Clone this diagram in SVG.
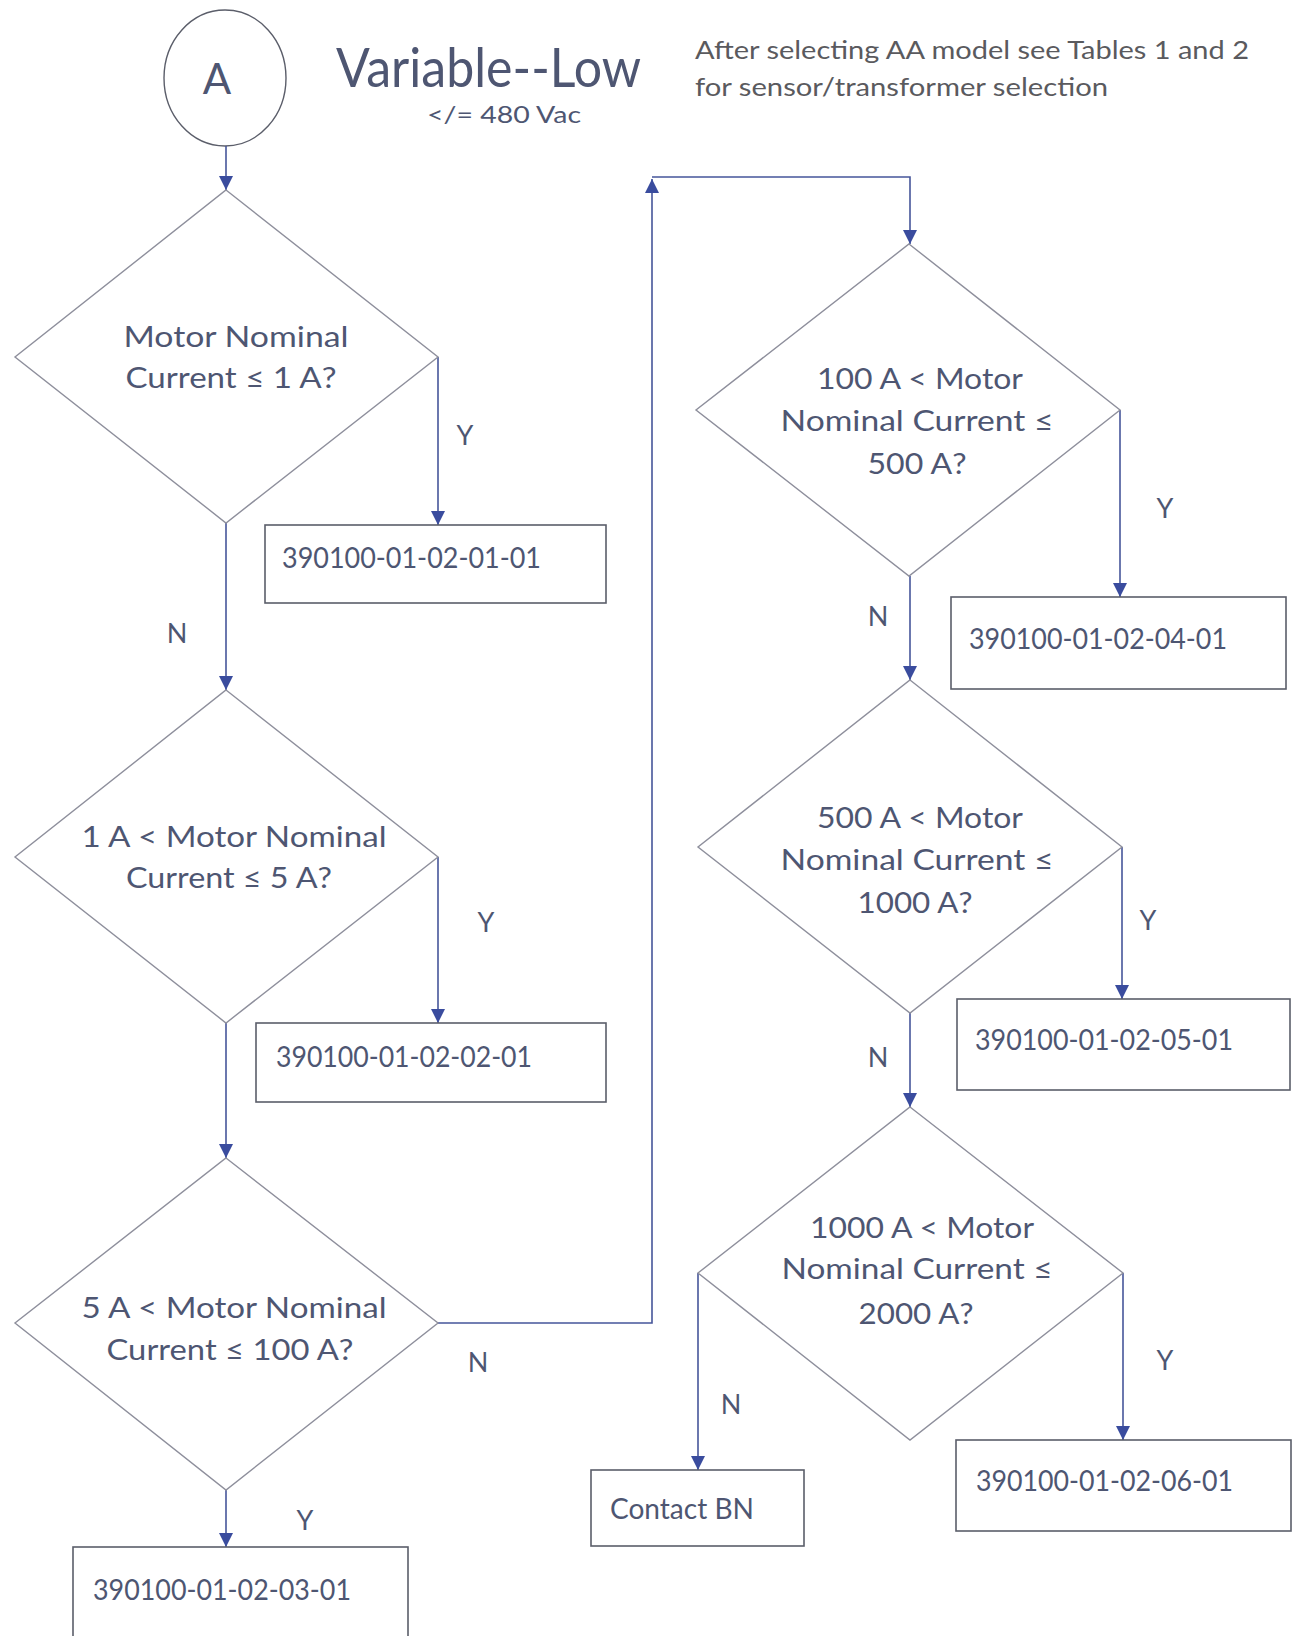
<svg xmlns="http://www.w3.org/2000/svg" width="1293" height="1636" viewBox="0 0 1293 1636">
<defs>
<marker id="arr" markerUnits="userSpaceOnUse" markerWidth="14" markerHeight="16" refX="14" refY="7" orient="auto">
<path d="M0,0 L14,7 L0,14 Z" fill="#3a4c9e"/>
</marker>
<style>
text{font-family:Lato,"Liberation Sans",sans-serif;fill:#4e5672}
.q{font-size:29px;text-anchor:middle}
.b{font-size:28px}
.l{font-size:27px;text-anchor:middle}
.dia{fill:none;stroke:#8e8f9c;stroke-width:1.4}
.box{fill:none;stroke:#5b5e6a;stroke-width:1.6}
.con path{fill:none;stroke:#46569a;stroke-width:1.6}
.note{font-size:25px;fill:#5a5a5e}
</style>
</defs>
<rect width="1293" height="1636" fill="#ffffff"/>

<g id="start">
<ellipse cx="225" cy="78" rx="61" ry="68" fill="none" stroke="#5b5e6a" stroke-width="1.4"/>
<text x="217" y="94" style="font-size:42px;text-anchor:middle">A</text>
</g>
<g id="title">
<text x="336" y="87" style="font-size:55px" textLength="305" lengthAdjust="spacingAndGlyphs">Variable--Low</text>
<text x="427" y="123" style="font-size:23px" textLength="154" lengthAdjust="spacingAndGlyphs">&lt;/= 480 Vac</text>
</g>
<g id="note">
<text class="note" x="695" y="59" textLength="554" lengthAdjust="spacingAndGlyphs">After selecting AA model see Tables 1 and 2</text>
<text class="note" x="695" y="96" textLength="413" lengthAdjust="spacingAndGlyphs">for sensor/transformer selection</text>
</g>

<g class="con" id="connectors">
<path d="M226,146 V190" marker-end="url(#arr)"/>
<path d="M226,523 V690" marker-end="url(#arr)"/>
<path d="M438,357 V525" marker-end="url(#arr)"/>
<path d="M226,1023 V1158" marker-end="url(#arr)"/>
<path d="M438,857 V1023" marker-end="url(#arr)"/>
<path d="M226,1490 V1547" marker-end="url(#arr)"/>
<path d="M438,1323 H652 V179" marker-end="url(#arr)"/>
<path d="M652,177 H910 V244" marker-end="url(#arr)"/>
<path d="M1120,410 V597" marker-end="url(#arr)"/>
<path d="M910,576 V680" marker-end="url(#arr)"/>
<path d="M1122,847 V999" marker-end="url(#arr)"/>
<path d="M910,1013 V1107" marker-end="url(#arr)"/>
<path d="M698,1273 V1470" marker-end="url(#arr)"/>
<path d="M1123,1273 V1440" marker-end="url(#arr)"/>
<text class="l" x="465" y="445">Y</text>
<text class="l" x="177" y="643">N</text>
<text class="l" x="486" y="932">Y</text>
<text class="l" x="478" y="1372">N</text>
<text class="l" x="305" y="1530">Y</text>
<text class="l" x="1165" y="518">Y</text>
<text class="l" x="878" y="626">N</text>
<text class="l" x="1148" y="930">Y</text>
<text class="l" x="878" y="1067">N</text>
<text class="l" x="1165" y="1370">Y</text>
<text class="l" x="731" y="1414">N</text>
</g>

<g id="d1">
<path class="dia" d="M226,190 L438,357 L226,523 L15,357 Z"/>
<text class="q" x="236" y="347" textLength="225" lengthAdjust="spacingAndGlyphs">Motor Nominal</text>
<text class="q" x="231" y="388" textLength="211" lengthAdjust="spacingAndGlyphs">Current ≤ 1 A?</text>
</g>
<g id="b1">
<rect class="box" x="265" y="525" width="341" height="78"/>
<text class="b" x="282" y="568" textLength="259" lengthAdjust="spacingAndGlyphs">390100-01-02-01-01</text>
</g>

<g id="d2">
<path class="dia" d="M226,690 L438,857 L226,1023 L15,857 Z"/>
<text class="q" x="234" y="847" textLength="305" lengthAdjust="spacingAndGlyphs">1 A &lt; Motor Nominal</text>
<text class="q" x="229" y="888" textLength="206" lengthAdjust="spacingAndGlyphs">Current ≤ 5 A?</text>
</g>
<g id="b2">
<rect class="box" x="256" y="1023" width="350" height="79"/>
<text class="b" x="276" y="1067" textLength="256" lengthAdjust="spacingAndGlyphs">390100-01-02-02-01</text>
</g>

<g id="d3">
<path class="dia" d="M226,1158 L438,1323 L226,1490 L15,1323 Z"/>
<text class="q" x="234" y="1318" textLength="305" lengthAdjust="spacingAndGlyphs">5 A &lt; Motor Nominal</text>
<text class="q" x="230" y="1360" textLength="247" lengthAdjust="spacingAndGlyphs">Current ≤ 100 A?</text>
</g>
<g id="b3">
<rect class="box" x="73" y="1547" width="335" height="110"/>
<text class="b" x="93" y="1600" textLength="258" lengthAdjust="spacingAndGlyphs">390100-01-02-03-01</text>
</g>

<g id="d4">
<path class="dia" d="M909,244 L1120,410 L909,576 L696,410 Z"/>
<text class="q" x="920" y="389" textLength="206" lengthAdjust="spacingAndGlyphs">100 A &lt; Motor</text>
<text class="q" x="917" y="431" textLength="273" lengthAdjust="spacingAndGlyphs">Nominal Current ≤</text>
<text class="q" x="917" y="474" textLength="99" lengthAdjust="spacingAndGlyphs">500 A?</text>
</g>
<g id="b4">
<rect class="box" x="951" y="597" width="335" height="92"/>
<text class="b" x="969" y="649" textLength="258" lengthAdjust="spacingAndGlyphs">390100-01-02-04-01</text>
</g>

<g id="d5">
<path class="dia" d="M910,680 L1122,847 L910,1013 L698,847 Z"/>
<text class="q" x="920" y="828" textLength="206" lengthAdjust="spacingAndGlyphs">500 A &lt; Motor</text>
<text class="q" x="917" y="870" textLength="273" lengthAdjust="spacingAndGlyphs">Nominal Current ≤</text>
<text class="q" x="915" y="913" textLength="115" lengthAdjust="spacingAndGlyphs">1000 A?</text>
</g>
<g id="b5">
<rect class="box" x="957" y="999" width="333" height="91"/>
<text class="b" x="975" y="1050" textLength="258" lengthAdjust="spacingAndGlyphs">390100-01-02-05-01</text>
</g>

<g id="d6">
<path class="dia" d="M910,1107 L1123,1273 L910,1440 L698,1273 Z"/>
<text class="q" x="922" y="1238" textLength="224" lengthAdjust="spacingAndGlyphs">1000 A &lt; Motor</text>
<text class="q" x="917" y="1279" textLength="271" lengthAdjust="spacingAndGlyphs">Nominal Current ≤</text>
<text class="q" x="916" y="1324" textLength="115" lengthAdjust="spacingAndGlyphs">2000 A?</text>
</g>
<g id="b6">
<rect class="box" x="956" y="1440" width="335" height="91"/>
<text class="b" x="976" y="1491" textLength="257" lengthAdjust="spacingAndGlyphs">390100-01-02-06-01</text>
</g>
<g id="contact">
<rect class="box" x="591" y="1470" width="213" height="76"/>
<text class="b" x="610" y="1519" textLength="144" lengthAdjust="spacingAndGlyphs">Contact BN</text>
</g>
</svg>
